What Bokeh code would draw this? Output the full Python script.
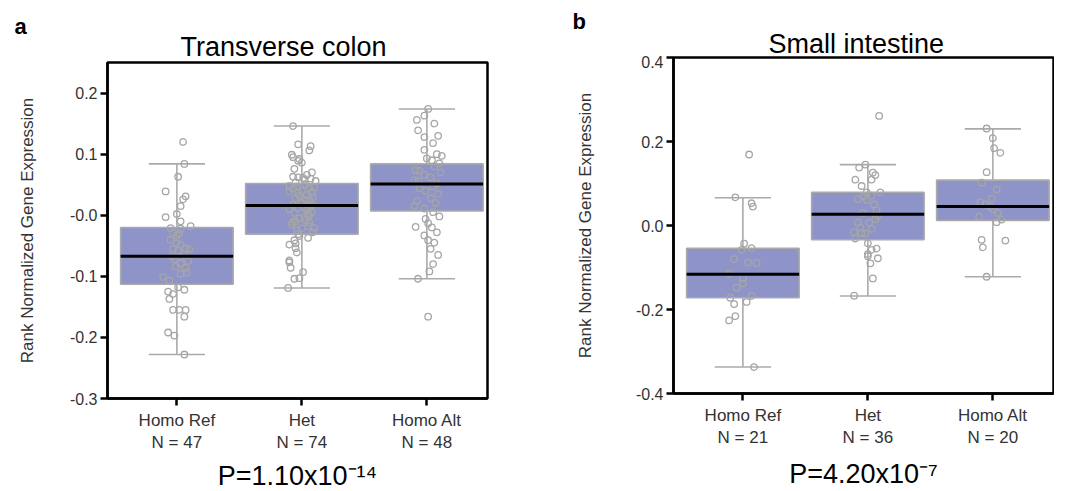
from bokeh.plotting import figure
from bokeh.models import FixedTicker, Range1d
from bokeh.layouts import row, column
from bokeh.core.properties import value
from bokeh.embed import file_html
from bokeh.resources import INLINE

FONT = "Liberation Sans"

genotypes = ["Homo Ref", "Het", "Homo Alt"]

# ---------------- Transverse colon ----------------
colon_letter = "a"
colon_title = "Transverse colon"
colon_pvalue = "P=1.10x10⁻¹⁴"
colon_n = [47, 74, 48]
colon_q1 = [-0.113, -0.031, 0.007]
colon_median = [-0.067, 0.016, 0.051]
colon_q3 = [-0.020, 0.052, 0.084]
colon_whisker_low = [-0.228, -0.119, -0.104]
colon_whisker_high = [0.084, 0.146, 0.174]

colon_ref_values = [0.120, 0.084, 0.063, 0.039, 0.031, 0.026, 0.015, 0.002, -0.003, -0.010,
                    -0.018, -0.021, -0.022, -0.029, -0.033, -0.046, -0.048, -0.054, -0.056, -0.067,
                    -0.068, -0.075, -0.079, -0.086, -0.094, -0.096, -0.101, -0.107, -0.118, -0.122,
                    -0.125, -0.129, -0.137, -0.155, -0.155, -0.155, -0.166, -0.192, -0.197, -0.228,
                    -0.072, -0.058, -0.040, -0.064, -0.084, -0.030, -0.055]
colon_ref_jitter = [0.05, 0.06, 0.01, -0.09, 0.07, 0.05, 0.03, 0.00, -0.09, 0.03,
                    0.11, -0.05, 0.03, -0.03, 0.00, 0.00, 0.03, 0.07, 0.10, -0.04,
                    0.03, 0.09, 0.03, 0.07, 0.08, 0.03, -0.11, -0.06, 0.01, 0.06,
                    -0.07, -0.03, -0.06, -0.03, 0.02, 0.07, 0.06, -0.07, -0.02, 0.06,
                    -0.02, 0.01, -0.05, 0.05, -0.01, 0.02, -0.03]

colon_het_values = [0.146, 0.116, 0.113, 0.106, 0.099, 0.095, 0.092, 0.089, 0.086, 0.076,
                    0.070, 0.063, 0.062, 0.061, 0.060, 0.056, 0.048, 0.047, 0.045, 0.046,
                    0.039, 0.037, 0.037, 0.032, 0.025, 0.024, 0.017, 0.013, 0.010, 0.005,
                    0.002, -0.003, -0.012, -0.011, -0.010, -0.021, -0.021, -0.028, -0.031, -0.037,
                    -0.034, -0.041, -0.048, -0.046, -0.054, -0.061, -0.074, -0.077, -0.086, -0.093,
                    -0.103, -0.104, -0.119,
                    0.040, 0.033, 0.028, 0.020, 0.018, 0.012, 0.008, 0.004, 0.000, -0.005,
                    -0.008, -0.015, -0.018, 0.050, 0.054, 0.058, 0.066, 0.030, -0.025, 0.044, 0.015]
colon_het_jitter = [-0.07, -0.03, 0.07, 0.06, -0.08, -0.07, -0.02, -0.03, 0.00, -0.06,
                    0.08, -0.07, -0.03, 0.01, 0.07, 0.11, -0.10, -0.04, 0.06, 0.10,
                    -0.10, -0.03, 0.08, -0.02, 0.03, 0.06, -0.07, 0.02, -0.10, 0.08,
                    0.05, 0.02, 0.06, -0.07, -0.05, 0.10, 0.00, 0.09, -0.03, 0.05,
                    -0.02, -0.06, -0.10, -0.05, -0.05, -0.04, -0.10, -0.10, -0.09, 0.01,
                    -0.02, -0.06, -0.11,
                    0.00, 0.04, -0.05, 0.00, 0.08, -0.03, 0.04, -0.06, 0.06, -0.02,
                    0.03, -0.08, 0.05, 0.03, -0.05, 0.02, 0.04, 0.09, -0.04, -0.07, 0.07]

colon_alt_values = [0.174, 0.163, 0.156, 0.139, 0.128, 0.107, 0.093, 0.074, 0.073, 0.066,
                    0.057, 0.056, 0.044, 0.040, 0.023, 0.015, 0.011, -0.006, -0.013, -0.019,
                    -0.033, -0.041, -0.104, -0.166,
                    0.150, 0.130, 0.118, 0.100, 0.097, 0.090, 0.085, 0.080, 0.070, 0.062,
                    0.052, 0.047, 0.035, 0.028, 0.020, 0.005, -0.002, -0.020, -0.028, -0.045,
                    -0.055, -0.065, -0.080, -0.092]
colon_alt_jitter = [0.01, -0.02, -0.08, -0.07, -0.02, -0.02, 0.00, -0.09, -0.06, -0.02,
                    -0.10, -0.07, -0.06, -0.01, -0.08, -0.10, -0.02, -0.01, 0.01, -0.09,
                    -0.02, 0.01, -0.07, 0.01,
                    0.06, 0.09, 0.05, 0.08, 0.12, 0.04, 0.10, 0.06, 0.11, 0.03,
                    0.08, 0.05, 0.09, 0.03, 0.07, 0.05, 0.10, 0.04, 0.08, 0.06,
                    0.03, 0.09, 0.05, 0.02]

# ---------------- Small intestine ----------------
intestine_letter = "b"
intestine_title = "Small intestine"
intestine_pvalue = "P=4.20x10⁻⁷"
intestine_n = [21, 36, 20]
intestine_q1 = [-0.172, -0.034, 0.012]
intestine_median = [-0.116, 0.027, 0.045]
intestine_q3 = [-0.054, 0.079, 0.108]
intestine_whisker_low = [-0.337, -0.168, -0.122]
intestine_whisker_high = [0.066, 0.145, 0.230]

intestine_ref_values = [0.169, 0.067, 0.053, 0.045, -0.043, -0.054, -0.058, -0.080, -0.088, -0.089,
                        -0.115, -0.125, -0.138, -0.148, -0.172, -0.168, -0.187, -0.182, -0.216, -0.226,
                        -0.337]
intestine_ref_jitter = [0.05, -0.06, 0.07, 0.08, 0.01, 0.07, -0.01, -0.07, 0.04, 0.11,
                        -0.11, 0.00, 0.00, -0.05, -0.10, 0.07, -0.07, 0.03, -0.06, -0.11,
                        0.09]

intestine_het_values = [0.261, 0.145, 0.138, 0.126, 0.120, 0.109, 0.109, 0.094, 0.079, 0.079,
                        0.071, 0.069, 0.063, 0.061, 0.037, 0.023, 0.007, 0.007, -0.008, -0.016,
                        -0.018, -0.019, -0.031, -0.042, -0.055, -0.058, -0.068, -0.073, -0.078, -0.090,
                        -0.126, -0.167, 0.050, 0.030, 0.015, -0.005]
intestine_het_jitter = [0.09, -0.02, -0.07, 0.04, 0.06, 0.03, -0.10, -0.05, -0.01, 0.10,
                        0.03, -0.03, -0.08, -0.01, 0.07, 0.08, -0.08, 0.01, 0.03, -0.11,
                        -0.05, -0.02, -0.10, 0.00, 0.07, 0.03, 0.00, 0.00, 0.08, 0.02,
                        0.04, -0.11, 0.05, -0.04, 0.06, -0.06]

intestine_alt_values = [0.231, 0.208, 0.184, 0.173, 0.127, 0.102, 0.086, 0.064, 0.055, 0.050,
                        0.045, 0.039, 0.021, 0.014, 0.008, -0.034, -0.036, -0.052, -0.122, 0.030]
intestine_alt_jitter = [-0.05, 0.00, 0.01, 0.06, -0.05, -0.09, 0.03, -0.01, -0.10, -0.06,
                        -0.02, 0.00, -0.11, 0.07, 0.03, -0.09, 0.10, -0.08, -0.05, 0.04]

colon_yticks = [-0.3, -0.2, -0.1, 0.0, 0.1, 0.2]
colon_ytick_labels = ["-0.3", "-0.2", "-0.1", "-0.0", "0.1", "0.2"]
intestine_yticks = [-0.4, -0.2, 0.0, 0.2, 0.4]
intestine_ytick_labels = ["-0.4", "-0.2", "0.0", "0.2", "0.4"]

BOX_FILL = "#8e93c8"
GREY = "#aaaaaa"
POINT = "#a6a6a6"
FRAME_W, FRAME_H = 380, 336
PAGE_H = 491


def header(width, height, letter, letter_xy, title, title_xy):
    """Strip above a panel; its frame fills it and its scales are pixels (y down)."""
    f = figure(width=width, height=height, x_range=Range1d(0, width), y_range=Range1d(height, 0),
               output_backend="svg", toolbar_location=None, title=None,
               x_axis_location=None, y_axis_location=None,
               min_border_left=0, min_border_right=0, min_border_top=0, min_border_bottom=0)
    f.grid.visible = False
    f.outline_line_color = None
    f.background_fill_color = "white"
    f.border_fill_color = "white"
    f.text(x=[letter_xy[0]], y=[letter_xy[1]], text=[letter], text_font=value(FONT),
           text_font_size=value("22px"), text_font_style=value("bold"),
           text_align="left", text_baseline="alphabetic", text_color="black")
    f.text(x=[title_xy[0]], y=[title_xy[1]], text=[title], text_font=value(FONT),
           text_font_size=value("27px"), text_font_style=value("normal"),
           text_align="left", text_baseline="alphabetic", text_color="black")
    return f


def make_panel(width, border_left, header_h, letter, letter_xy, title, title_xy, pvalue,
               p_standoff, y_lo, y_hi, yticks, ytick_labels, n_list, q1, med, q3, lo, hi,
               groups, label_standoff):
    bottom = PAGE_H - header_h - 2 - FRAME_H
    p = figure(frame_width=FRAME_W, frame_height=FRAME_H,
               x_range=Range1d(-0.555, 2.485), y_range=Range1d(y_lo, y_hi),
               output_backend="svg", toolbar_location=None, title=None,
               min_border_left=border_left, min_border_right=width - border_left - FRAME_W,
               min_border_top=2, min_border_bottom=bottom)
    p.grid.visible = False
    p.outline_line_color = "black"
    p.outline_line_width = 2.5
    p.outline_line_alpha = 1.0
    p.background_fill_color = "white"
    p.border_fill_color = "white"

    cats = [0, 1, 2]
    p.segment(x0=cats, x1=cats, y0=q3, y1=hi, line_color=GREY, line_width=1.6)
    p.segment(x0=cats, x1=cats, y0=lo, y1=q1, line_color=GREY, line_width=1.6)
    p.segment(x0=[c - 0.225 for c in cats], x1=[c + 0.225 for c in cats], y0=hi, y1=hi,
              line_color=GREY, line_width=1.6)
    p.segment(x0=[c - 0.225 for c in cats], x1=[c + 0.225 for c in cats], y0=lo, y1=lo,
              line_color=GREY, line_width=1.6)
    p.vbar(x=cats, width=0.9, bottom=q1, top=q3, fill_color=BOX_FILL, line_color=GREY, line_width=1.6)
    for c, (vals, jit) in zip(cats, groups):
        p.scatter(x=[c + j for j in jit], y=vals, marker="circle", size=6.5,
                  fill_color=None, line_color=POINT, line_width=1.3)
    p.segment(x0=[c - 0.45 for c in cats], x1=[c + 0.45 for c in cats], y0=med, y1=med,
              line_color="black", line_width=3)

    xa = p.xaxis[0]
    xa.ticker = FixedTicker(ticks=cats)
    xa.major_label_overrides = {c: f"{g}\nN = {n}" for c, g, n in zip(cats, genotypes, n_list)}
    xa.axis_label = pvalue
    xa.axis_label_text_font = FONT
    xa.axis_label_text_font_size = "27px"
    xa.axis_label_text_font_style = "normal"
    xa.axis_label_text_color = "black"
    xa.axis_label_standoff = p_standoff
    ya = p.yaxis[0]
    ya.ticker = FixedTicker(ticks=yticks)
    ya.major_label_overrides = {t: s for t, s in zip(yticks, ytick_labels)}
    ya.axis_label = "Rank Normalized Gene Expression"
    ya.axis_label_text_font = FONT
    ya.axis_label_text_font_size = "17px"
    ya.axis_label_text_font_style = "normal"
    ya.axis_label_text_color = "#333333"
    ya.axis_label_standoff = label_standoff
    for ax in (xa, ya):
        ax.axis_line_color = "black"
        ax.axis_line_width = 2.5
        ax.major_tick_line_color = "black"
        ax.major_tick_line_width = 2.5
        ax.major_tick_out = 7
        ax.major_tick_in = 0
        ax.minor_tick_line_color = None
        ax.major_label_text_font = FONT
        ax.major_label_text_color = "#333333"
    xa.major_label_text_font_size = "17px"
    xa.major_label_standoff = 5
    ya.major_label_text_font_size = "16px"
    ya.major_label_standoff = 3

    head = header(width, header_h, letter, letter_xy, title, title_xy)
    # wrapping the header in its own row keeps Bokeh from aligning its frame to the plot's
    return column(row(head), p)


colA = make_panel(552, 107, 60, colon_letter, (14, 26), colon_title, (180, 46), colon_pvalue, 6,
                  -0.3, 0.25, colon_yticks, colon_ytick_labels,
                  colon_n, colon_q1, colon_median, colon_q3, colon_whisker_low, colon_whisker_high,
                  [(colon_ref_values, colon_ref_jitter), (colon_het_values, colon_het_jitter),
                   (colon_alt_values, colon_alt_jitter)], 30)
colB = make_panel(502, 121, 55, intestine_letter, (20, 21), intestine_title, (216, 43), intestine_pvalue, 9,
                  -0.4, 0.4, intestine_yticks, intestine_ytick_labels,
                  intestine_n, intestine_q1, intestine_median, intestine_q3, intestine_whisker_low,
                  intestine_whisker_high,
                  [(intestine_ref_values, intestine_ref_jitter), (intestine_het_values, intestine_het_jitter),
                   (intestine_alt_values, intestine_alt_jitter)], 38)

layout = row(colA, colB)
open("out.html", "w").write(file_html(layout, INLINE))
